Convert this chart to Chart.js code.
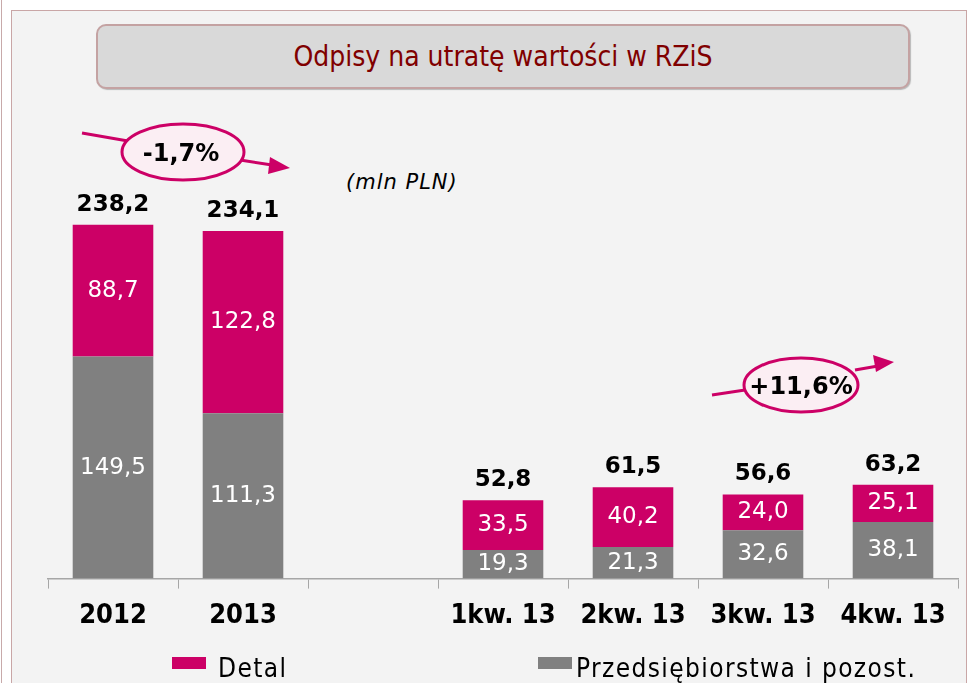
<!DOCTYPE html>
<html>
<head>
<meta charset="utf-8">
<script src="https://cdn.jsdelivr.net/npm/chart.js@4/dist/chart.umd.min.js"></script>
<style>
  html, body { margin: 0; padding: 0; background: #ffffff; }
  body { width: 969px; height: 683px; position: relative; overflow: hidden; font-family: "DejaVu Sans", sans-serif; }
  #edge { position: absolute; left: 1px; top: 0; width: 1px; height: 683px; background: #c8aaaa; }
  #panel { position: absolute; left: 11px; top: 10px; width: 954px; height: 700px; background: #f3f3f3; border: 1px solid #c9a6a6; }
  #title { position: absolute; left: 96px; top: 24px; width: 810px; height: 61px; background: #d9d9d9;
           border: 2px solid #c4a2a2; border-radius: 10px; box-shadow: 1px 1px 1px #b8b8b8;
           color: #800000; font-family: "DejaVu Sans Condensed", sans-serif; font-size: 28px;
           text-align: center; line-height: 61px; }
  #unit { position: absolute; left: 346px; top: 170px; font-size: 21px; font-style: italic; color: #000; letter-spacing: 1px; }
  #chart { position: absolute; left: 0; top: 0; }
  #notes { position: absolute; left: 0; top: 0; }
  .leg { position: absolute; top: 653px; font-family: "DejaVu Sans Condensed", sans-serif; font-size: 26px; color: #000; letter-spacing: 1.4px; }
  .sw { position: absolute; width: 34px; height: 12px; }
</style>
</head>
<body>
<div id="edge"></div>
<div id="panel"></div>
<div id="title">Odpisy na utratę wartości w RZiS</div>
<div id="unit">(mln PLN)</div>
<canvas id="chart" width="969" height="683"></canvas>
<svg id="notes" width="969" height="683">
  <g stroke="#cc0066" stroke-width="3" fill="none">
    <line x1="82" y1="133" x2="128" y2="141" />
    <line x1="240" y1="160" x2="272" y2="165" />
    <line x1="712" y1="395" x2="745" y2="390" />
    <line x1="855" y1="370" x2="878" y2="366" />
  </g>
  <polygon points="290,168 270,157 268,174" fill="#cc0066" />
  <polygon points="894,362 873,355 876,372" fill="#cc0066" />
  <ellipse cx="183" cy="152" rx="61" ry="28" fill="#fbeef3" stroke="#cc0066" stroke-width="3" />
  <ellipse cx="801" cy="385" rx="57" ry="27" fill="#fbeef3" stroke="#cc0066" stroke-width="3" />
  <text x="181" y="161" text-anchor="middle" font-family="DejaVu Sans" font-weight="bold" font-size="24" fill="#000">-1,7%</text>
  <text x="801" y="394" text-anchor="middle" font-family="DejaVu Sans" font-weight="bold" font-size="24" fill="#000">+11,6%</text>
</svg>
<div class="sw" style="left:172px; top:657px; background:#cc0066;"></div>
<div class="leg" style="left:218px;">Detal</div>
<div class="sw" style="left:538px; top:657px; background:#808080;"></div>
<div class="leg" style="left:576px;">Przedsiębiorstwa i pozost.</div>
<script>
// dane (mln PLN)
const categories = ["2012", "2013", "", "1kw. 13", "2kw. 13", "3kw. 13", "4kw. 13"];
const detal = [88.7, 122.8, null, 33.5, 40.2, 24.0, 25.1];
const firmy = [149.5, 111.3, null, 19.3, 21.3, 32.6, 38.1];
const totals = [238.2, 234.1, null, 52.8, 61.5, 56.6, 63.2];

function fmt(v) {
  return v.toFixed(1).replace(".", ",");
}

// etykiety na słupkach + sumy nad słupkami
const barLabels = {
  id: "barLabels",
  afterDatasetsDraw(chart) {
    const ctx = chart.ctx;
    ctx.save();
    ctx.textAlign = "center";
    ctx.textBaseline = "middle";
    ctx.fillStyle = "#ffffff";
    ctx.font = "23px 'DejaVu Sans'";
    chart.data.datasets.forEach((ds, i) => {
      const meta = chart.getDatasetMeta(i);
      meta.data.forEach((bar, j) => {
        if (ds.data[j] == null) return;
        ctx.fillText(fmt(ds.data[j]), bar.x, (bar.y + bar.base) / 2);
      });
    });
    const top = chart.getDatasetMeta(chart.data.datasets.length - 1);
    ctx.fillStyle = "#000000";
    ctx.font = "bold 23px 'DejaVu Sans'";
    top.data.forEach((bar, j) => {
      if (totals[j] == null) return;
      ctx.fillText(fmt(totals[j]), bar.x, bar.y - 20);
    });
    ctx.restore();
  },
};

new Chart(document.getElementById("chart"), {
  type: "bar",
  data: {
    labels: categories,
    datasets: [
      { label: "Przedsiębiorstwa i pozost.", data: firmy, backgroundColor: "#808080" },
      { label: "Detal", data: detal, backgroundColor: "#cc0066" },
    ],
  },
  options: {
    responsive: false,
    animation: false,
    layout: { padding: { left: 48, right: 11, top: 133, bottom: 40 } },
    plugins: { legend: { display: false }, tooltip: { enabled: false } },
    datasets: { bar: { categoryPercentage: 1, barPercentage: 0.62 } },
    scales: {
      x: {
        stacked: true,
        grid: { offset: true, drawOnChartArea: false, drawTicks: true, tickLength: 10, color: "#a6a6a6" },
        border: { display: true, color: "#a6a6a6", width: 1.5 },
        ticks: { color: "#000", padding: 11, font: { family: "DejaVu Sans Condensed", weight: "bold", size: 27 } },
      },
      y: { stacked: true, display: false, min: 0, max: 300 },
    },
  },
  plugins: [barLabels],
});
</script>
</body>
</html>
